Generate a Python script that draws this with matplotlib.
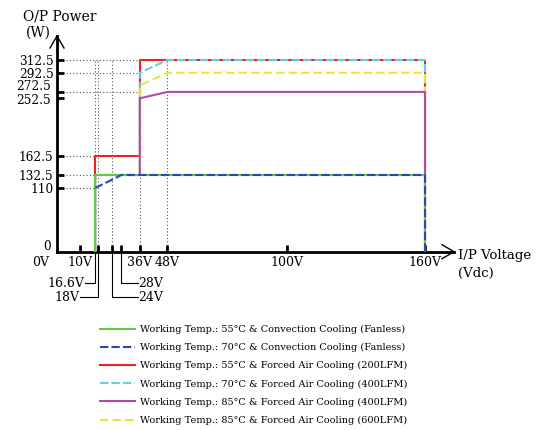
import numpy as np
import matplotlib
matplotlib.use("Agg")
import matplotlib.pyplot as plt
from matplotlib.lines import Line2D

plt.rcParams['font.family'] = ['DejaVu Serif']

# ---- data ----
v_green = [16.6, 16.6, 160, 160]
p_green = [0, 132.5, 132.5, 0]
v_blue = [16.6, 28, 160, 160]
p_blue = [110, 132.5, 132.5, 0]
v_red = [16.6, 16.6, 36, 36, 160, 160]
p_red = [0, 162.5, 162.5, 312.5, 312.5, 0]
v_cyan = [16.6, 16.6, 36, 36, 48, 160, 160]
p_cyan = [0, 132.5, 132.5, 292.5, 312.5, 312.5, 0]
v_mag = [16.6, 16.6, 36, 36, 48, 160, 160]
p_mag = [0, 132.5, 132.5, 252.5, 262.5, 262.5, 0]
v_yel = [16.6, 16.6, 36, 36, 48, 160, 160]
p_yel = [0, 132.5, 132.5, 272.5, 292.5, 292.5, 0]

labels = [
    "Working Temp.: 55\u00b0C & Convection Cooling (Fanless)",
    "Working Temp.: 70\u00b0C & Convection Cooling (Fanless)",
    "Working Temp.: 55\u00b0C & Forced Air Cooling (200LFM)",
    "Working Temp.: 70\u00b0C & Forced Air Cooling (400LFM)",
    "Working Temp.: 85\u00b0C & Forced Air Cooling (400LFM)",
    "Working Temp.: 85\u00b0C & Forced Air Cooling (600LFM)",
]

ytick_vals = [0, 110, 132.5, 162.5, 252.5, 262.5, 292.5, 312.5]
ytick_labels = ["", "110", "132.5", "162.5", "", "", "292.5", "312.5"]
xtick_vals = [10, 18, 24, 28, 36, 48, 100, 160]
xtick_labels = ["10V", "", "", "", "36V", "48V", "100V", "160V"]
grid_h_high = [262.5, 292.5, 312.5]
grid_h_low = [110, 132.5, 162.5]
grid_v = [16.6, 18, 24, 36, 48]

# ---- piecewise y scale (chart stretches above 132.5 W) ----
K = 132.5
S2 = 1.104
def fwd(v):
    v = np.asarray(v, dtype=float)
    return np.where(v <= K, v, K + (v - K) * S2)
def inv(u):
    u = np.asarray(u, dtype=float)
    return np.where(u <= K, u, K + (u - K) / S2)

fig = plt.figure(figsize=(5.52, 4.30), dpi=100)
ax = fig.add_axes([57/552, 178.3/430, 397/552, 215.7/430])
ax.set_yscale('function', functions=(fwd, inv))
ax.set_xlim(0, 172.6)
ax.set_ylim(0, 350)

for s in ['top', 'right']:
    ax.spines[s].set_visible(False)
for s in ['left', 'bottom']:
    ax.spines[s].set_linewidth(2)
    ax.spines[s].set_color('black')

# dotted guides
dot = dict(color='#555555', lw=0.8, ls=(0, (1, 2)), zorder=1)
for y in grid_h_high:
    ax.plot([4, 36], [y, y], **dot)
for y in grid_h_low:
    ax.plot([4, 16.6], [y, y], **dot)
for x in grid_v:
    ax.plot([x, x], [0, 312.5], **dot)

lw = 1.5
l_red, = ax.plot(v_red, p_red, color='#ee2222', lw=lw, zorder=3)
l_cyan, = ax.plot(v_cyan, p_cyan, color='#66cce0', lw=lw, dashes=(4, 1.5), zorder=4)
l_yel, = ax.plot(v_yel, p_yel, color='#eee23a', lw=lw, dashes=(4, 2), zorder=5)
l_mag, = ax.plot(v_mag, p_mag, color='#b04aa8', lw=lw, zorder=6)
l_green, = ax.plot(v_green, p_green, color='#66c845', lw=lw, zorder=7)
l_blue, = ax.plot(v_blue, p_blue, color='#2a4aa8', lw=lw, dashes=(4, 1.5), zorder=8)

# ticks
ax.set_yticks(ytick_vals)
ax.set_yticklabels(ytick_labels)
ax.yaxis.set_minor_locator(matplotlib.ticker.NullLocator())
ax.set_xticks(xtick_vals)
ax.set_xticklabels(xtick_labels)
ax.tick_params(axis='both', direction='in', length=5, width=2, labelsize=9, colors='black')
ax.tick_params(axis='y', pad=2.5, labelsize=8.7)
ax.tick_params(axis='x', pad=3)
ax.yaxis.get_major_ticks()[0].tick1line.set_visible(False)

ytr = ax.get_yaxis_transform()
# labels placed where the reference staggers them
for txt, px in [("272.5", 86), ("252.5", 100.5), ("0", 247)]:
    yfrac = (251.7 - px) / 215.7
    ax.text(-6.5/397, yfrac, txt, ha='right', va='center', fontsize=8.7,
            transform=ax.transAxes)
ax.text(-3.5, -0.05, "0V", ha='right', va='center', fontsize=9,
        transform=ax.get_xaxis_transform())

# leader-line labels below the axis
tr = ax.get_xaxis_transform()
lk = dict(color='black', lw=0.8, clip_on=False, transform=tr)
y1, y2 = -0.146, -0.211
ax.plot([16.6, 16.6, 12.3], [0, y1, y1], **lk)
ax.text(12.0, y1, "16.6V", ha='right', va='center', fontsize=9, transform=tr)
ax.plot([18, 18, 10.2], [0, y2, y2], **lk)
ax.text(9.9, y2, "18V", ha='right', va='center', fontsize=9, transform=tr)
ax.plot([28, 28, 35.2], [0, y1, y1], **lk)
ax.text(35.5, y1, "28V", ha='left', va='center', fontsize=9, transform=tr)
ax.plot([24, 24, 35.2], [0, y2, y2], **lk)
ax.text(35.5, y2, "24V", ha='left', va='center', fontsize=9, transform=tr)

# arrow heads
ax.add_line(Line2D([1 - 12/397, 1, 1 - 12/397], [7/215.7, 0, -7/215.7],
                   transform=ax.transAxes, color='black', lw=1, clip_on=False))
ax.add_line(Line2D([-7/397, 0, 7/397], [1 - 12/215.7, 1, 1 - 12/215.7],
                   transform=ax.transAxes, color='black', lw=1, clip_on=False))

# axis titles
fig.text(60/552, 1 - 17/430, "O/P Power", ha='center', va='center', fontsize=10)
fig.text(38/552, 1 - 33/430, "(W)", ha='center', va='center', fontsize=10)
fig.text(458/552, 1 - 255/430, "I/P Voltage", ha='left', va='center', fontsize=9.5)
fig.text(458/552, 1 - 273/430, "(Vdc)", ha='left', va='center', fontsize=9.5)

# legend
handles = [l_green, l_blue, l_red, l_cyan, l_mag, l_yel]
fig.legend(handles, labels, loc='upper left', bbox_to_anchor=(100/552, 1 - 325/430),
           frameon=False, fontsize=7, handlelength=3.6, handletextpad=0.5,
           labelspacing=0.93, borderpad=0, borderaxespad=0)

fig.savefig("out.png", dpi=100)
